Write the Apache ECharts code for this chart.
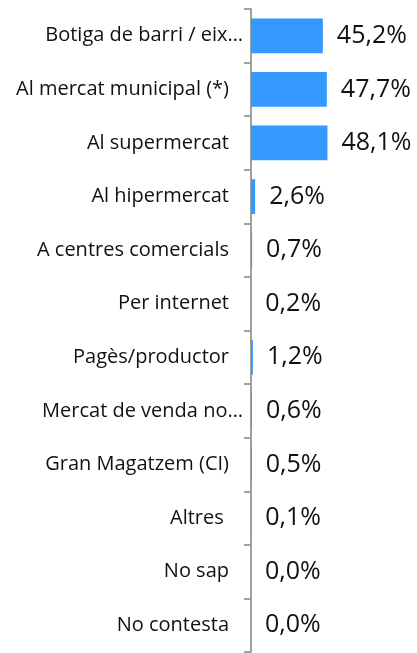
<!DOCTYPE html>
<html>
<head>
<meta charset="utf-8">
<script src="https://cdn.jsdelivr.net/npm/echarts@6/dist/echarts.min.js"></script>
<style>html,body{margin:0;padding:0;background:#fff}#c{width:417px;height:653px}</style>
</head>
<body>
<div id="c"></div>
<script>
var categories = ["Botiga de barri / eix…","Al mercat municipal (*)","Al supermercat","Al hipermercat","A centres comercials","Per internet","Pagès/productor","Mercat de venda no…","Gran Magatzem (CI)","Altres ","No sap","No contesta"];
var values = [45.2,47.7,48.1,2.6,0.7,0.2,1.2,0.6,0.5,0.1,0.0,0.0];
var xMax = 100;

var chart = echarts.init(document.getElementById('c'), null, {renderer:'canvas'});
chart.setOption({
  animation:false,
  grid:{left:251,right:7,top:9,bottom:1,containLabel:false},
  xAxis:{type:'value',min:0,max:xMax,show:false},
  yAxis:{type:'category',data:categories,inverse:true,
    axisLine:{show:true,lineStyle:{color:'#a0a0a0',width:2}},
    axisTick:{show:true,length:7,lineStyle:{color:'#a0a0a0',width:2}},
    axisLabel:{margin:8,fontFamily:'Open Sans',fontSize:20,color:'#111',
      formatter:function(v){return /…$/.test(v)? v : v+'{s|}';},
      rich:{s:{width:14}}}
  },
  series:[{type:'bar',data:values,barWidth:'65%',itemStyle:{color:'#3399ff'},
    label:{show:true,position:'right',distance:14,fontFamily:'Open Sans',fontSize:25,color:'#111',
      formatter:function(p){return p.value.toFixed(1).replace('.',',')+'%';}}
  }]
});
</script>
</body>
</html>
